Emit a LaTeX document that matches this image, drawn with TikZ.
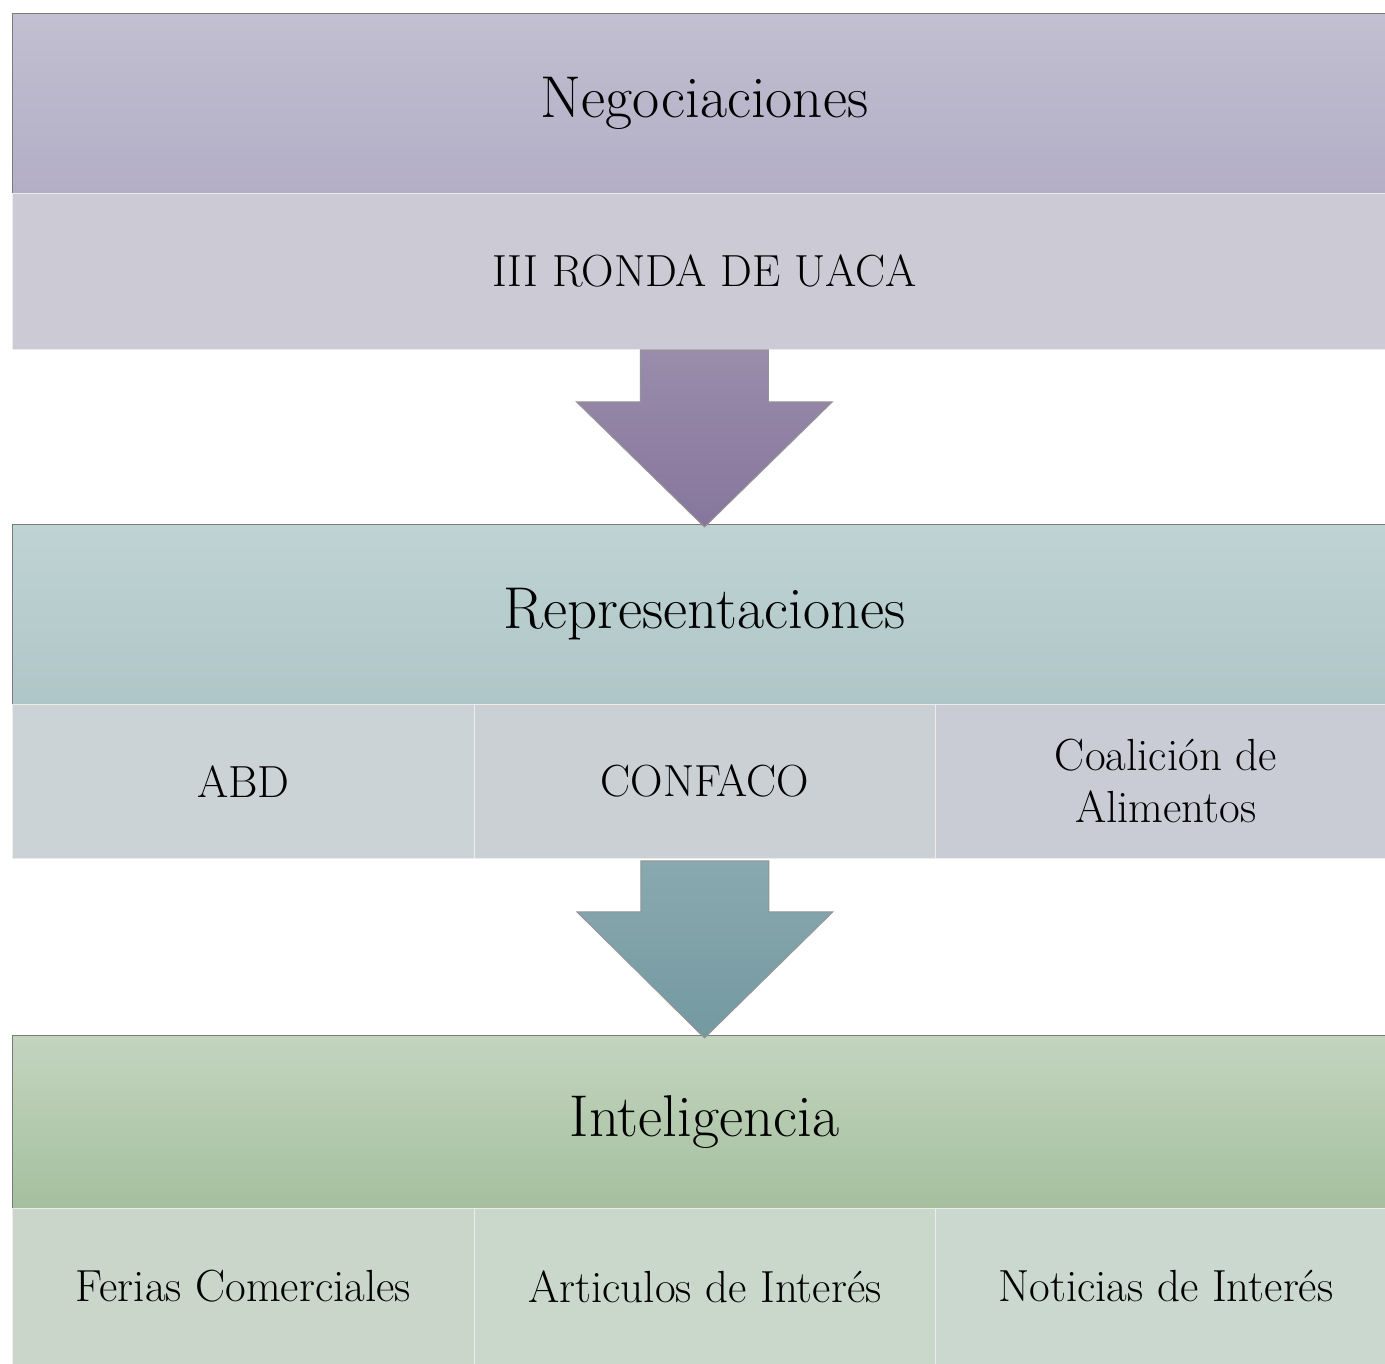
\documentclass[tikz,border=0pt]{standalone}
\usetikzlibrary{calc}
\definecolor{hAtop}{HTML}{C1BFD0}\definecolor{hAbot}{HTML}{B3AEC6}
\definecolor{sA}{HTML}{CCCAD5}
\definecolor{aAtop}{HTML}{9A8CAB}\definecolor{aAbot}{HTML}{86769C}
\definecolor{hBtop}{HTML}{BFD3D3}\definecolor{hBbot}{HTML}{AFC6C8}
\definecolor{sB1}{HTML}{CBD3D6}\definecolor{sB2}{HTML}{CBD0D5}\definecolor{sB3}{HTML}{C9CBD5}
\definecolor{aBtop}{HTML}{89A9AF}\definecolor{aBbot}{HTML}{7499A1}
\definecolor{hCtop}{HTML}{C3D4BF}\definecolor{hCbot}{HTML}{A5C09E}
\definecolor{sC1}{HTML}{CAD6CA}\definecolor{sC2}{HTML}{CAD8CC}\definecolor{sC3}{HTML}{CAD8D0}
\definecolor{edge}{HTML}{7A7A7A}
\begin{document}
\begin{tikzpicture}[x=1pt,y=-1pt,
  header/.style={anchor=north west,inner sep=0pt,minimum width=1384pt,draw=edge,line width=1pt,
    font=\fontsize{59}{66}\selectfont},
  subbox/.style={anchor=north west,inner sep=0pt,draw=white!85!gray,line width=0.8pt,
    font=\fontsize{45}{52}\selectfont,align=center},
  downarrow/.style={draw=edge!80,line width=1pt,line join=miter}]
\clip (0,0) rectangle (1385,1364);
\fill[white] (0,0) rectangle (1385,1364);
% level 1
\node[header,minimum height=180pt,top color=hAtop,bottom color=hAbot] (h1) at (12,13) {Negociaciones};
\node[subbox,minimum width=1384pt,minimum height=156pt,fill=sA] (s1) at (12,193) {III RONDA DE UACA};
% level 2
\node[header,minimum height=180pt,top color=hBtop,bottom color=hBbot] (h2) at (12,524) {Representaciones};
\node[subbox,minimum width=462pt,minimum height=154pt,fill=sB1] (s2a) at (12,704) {ABD};
\node[subbox,minimum width=461pt,minimum height=154pt,fill=sB2] (s2b) at (474,704) {CONFACO};
\node[subbox,minimum width=461pt,minimum height=154pt,fill=sB3] (s2c) at (935,704) {Coalición de\\Alimentos};
% level 3
\node[header,minimum height=173pt,top color=hCtop,bottom color=hCbot] (h3) at (12,1035) {Inteligencia};
\node[subbox,minimum width=462pt,minimum height=156pt,fill=sC1] (s3a) at (12,1208) {Ferias Comerciales};
\node[subbox,minimum width=461pt,minimum height=156pt,fill=sC2] (s3b) at (474,1208) {Articulos de Interés};
\node[subbox,minimum width=461pt,minimum height=156pt,fill=sC3] (s3c) at (935,1208) {Noticias de Interés};
% arrows
\draw[downarrow,top color=aAtop,bottom color=aAbot]
  ($(s1.south)+(-64,0)$) -- ($(s1.south)+(64,0)$) -- ($(s1.south)+(64,52)$) -- ($(s1.south)+(128,52)$)
  -- ($(h2.north)+(0,3)$) -- ($(s1.south)+(-128,52)$) -- ($(s1.south)+(-64,52)$) -- cycle;
\draw[downarrow,top color=aBtop,bottom color=aBbot]
  ($(s2b.south)+(-64,2)$) -- ($(s2b.south)+(64,2)$) -- ($(s2b.south)+(64,53)$) -- ($(s2b.south)+(128,53)$)
  -- ($(h3.north)+(0,3)$) -- ($(s2b.south)+(-128,53)$) -- ($(s2b.south)+(-64,53)$) -- cycle;
\end{tikzpicture}
\end{document}
